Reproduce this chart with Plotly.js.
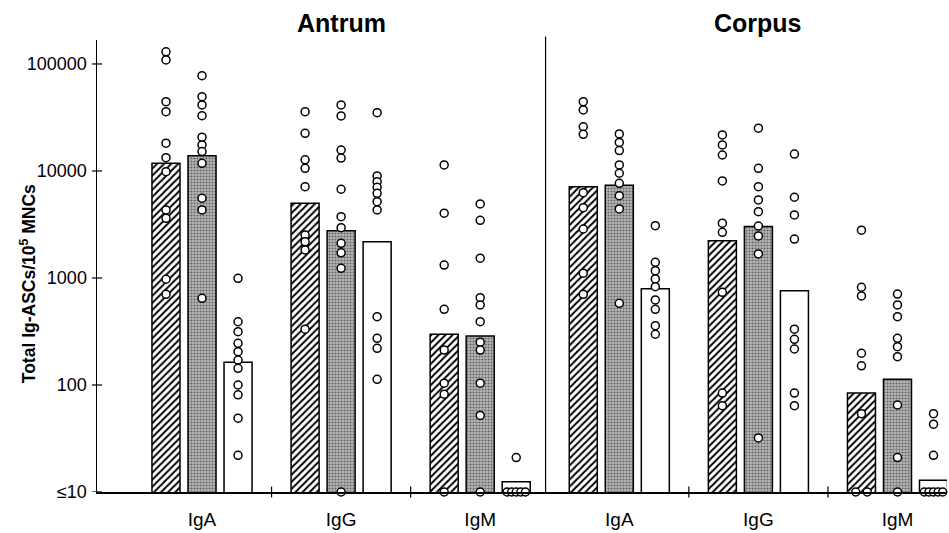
<!DOCTYPE html>
<html><head><meta charset="utf-8">
<script src="https://cdn.plot.ly/plotly-3.0.1.min.js"></script>
<style>html,body{margin:0;padding:0;background:#fff}#chart{width:949px;height:533px}</style>
</head><body><div id="chart"></div>
<script>
// ---- data ----
const groupLabels = ['IgA','IgG','IgM','IgA','IgG','IgM'];
const panelTitles = ['Antrum','Corpus'];
const panelTitleGroup = [1, 4];
const yTickVals = [10,100,1000,10000,100000];
const yTickText = ['\u226410','100','1000','10000','100000'];
const yAxisTitle = '<b>Total Ig-ASCs/10<sup>5</sup> MNCs</b>';

// bar heights for the three series (hatched, grey, white)
const barHatched = [11800, 4990, 298, 7130, 2230, 84];
const barGray    = [13900, 2770, 287, 7350, 3020, 113];
const barWhite   = [163, 2180, 12.5, 794, 761, 12.9];

// individual values per group (<=10 plotted at 10)
const ptsHatched = [
  [130000,109000,44400,35800,18200,13300,9850,4320,3610,973,704],
  [35800,22500,12700,10600,7130,2520,2180,1830,332],
  [11400,4030,1320,510,212,104,82,10],
  [44400,37200,25900,22000,6270,4540,2870,1110,704],
  [21700,17500,14100,8070,3250,2670,735,84,64],
  [2800,819,679,198,151,54,10,10]
];
const ptsGray = [
  [77800,49500,41400,32900,20700,17500,15200,11800,5560,4320,646],
  [41400,32700,15700,13200,6750,3740,2950,2110,1720,1230,10],
  [4920,3460,1530,655,560,391,251,212,104,52,10],
  [22200,18500,15500,11400,9520,7670,5880,4420,580],
  [25100,10600,7130,5360,4170,3060,2470,1680,32],
  [708,560,435,273,228,184,65,21,10]
];
const ptsWhite = [
  [993,390,315,245,205,171,143,100,81,49,22],
  [35100,8980,7940,7040,6190,5170,4320,435,273,220,113],
  [21,10,10,10,10,10],
  [3080,1400,1170,979,829,623,510,358,298],
  [14400,5680,3880,2310,332,267,217,84,64],
  [54,43,22,10,10,10,10,10]
];

// ---- build ----
const groupX = groupLabels.map((_, i) => i);
const BARGAP = 0.223, BARGROUPGAP = 0.222;
const slot = (1 - BARGAP) / 3;
const styles = [
  {bars: barHatched, pts: ptsHatched, color:'#ffffff',
   pattern:{shape:'/', fgcolor:'#000000', bgcolor:'#ffffff', size:5, solidity:0.4}},
  {bars: barGray, pts: ptsGray, color:'#a0a0a0',
   pattern:{shape:'.', fgcolor:'#666666', bgcolor:'#b8b8b8', size:3, solidity:0.4}},
  {bars: barWhite, pts: ptsWhite, color:'#ffffff', pattern:null}
];

const traces = [];
styles.forEach((s, si) => {
  const marker = {color: s.color, line:{color:'#000', width:1.5}};
  if (s.pattern) marker.pattern = s.pattern;
  traces.push({type:'bar', x: groupX, y: s.bars, marker: marker, hoverinfo:'skip'});
});
styles.forEach((s, si) => {
  const xs = [], ys = [];
  s.pts.forEach((arr, g) => {
    const counts = {};
    arr.forEach(v => counts[v] = (counts[v] || 0) + 1);
    const seen = {};
    arr.forEach(v => {
      const n = counts[v];
      const k = seen[v] = (seen[v] === undefined ? 0 : seen[v] + 1);
      const dx = n > 1 ? (k - (n - 1) / 2) * (0.165 / n) : 0;
      xs.push(groupX[g] + (si - 1) * slot + dx);
      ys.push(v);
    });
  });
  traces.push({type:'scatter', mode:'markers', x: xs, y: ys, cliponaxis:false,
    marker:{size:8, color:'#fff', line:{color:'#000', width:1.5}}, hoverinfo:'skip'});
});

const shapes = [];
// panel divider
shapes.push({type:'line', xref:'x', yref:'y domain', x0:2.47, x1:2.47, y0:0, y1:1.008,
  line:{color:'#000', width:1.2}});
// crossing x ticks between groups within panels
[0.5, 1.5, 3.5, 4.5].forEach(x => shapes.push({type:'line', xref:'x', yref:'y domain',
  x0:x, x1:x, y0:-0.012, y1:0.012, line:{color:'#000', width:1.2}}));
// crossing y ticks
yTickVals.forEach(v => shapes.push({type:'line', xref:'x domain', yref:'y',
  x0:-0.006, x1:0.006, y0:v, y1:v, line:{color:'#000', width:1.2}}));

const annotations = panelTitles.map((t, i) => ({text:'<b>'+t+'</b>', xref:'x', yref:'paper',
  x: groupX[panelTitleGroup[i]], y:1.037, xanchor:'center', yanchor:'middle', showarrow:false,
  font:{size:25, color:'#000'}}));
annotations.push({text: yAxisTitle, xref:'paper', yref:'paper', x:-0.081, y:0.46,
  textangle:-90, xanchor:'center', yanchor:'middle', showarrow:false, font:{size:17.5, color:'#000'}});

const layout = {
  width:949, height:533, margin:{l:97, r:2, t:40, b:41},
  paper_bgcolor:'#fff', plot_bgcolor:'#fff', showlegend:false,
  barmode:'group', bargap:BARGAP, bargroupgap:BARGROUPGAP,
  font:{family:'Liberation Sans, Arial, sans-serif', color:'#000', size:18},
  xaxis:{range:[-0.755, 5.356], tickvals:groupX, ticktext:groupLabels, ticks:'',
    showline:true, linecolor:'#000', linewidth:1.5, showgrid:false, zeroline:false,
    ticklabelstandoff:10, tickfont:{size:19}},
  yaxis:{type:'log', range:[1, 5.224], tickvals:yTickVals, ticktext:yTickText, ticks:'',
    showline:true, linecolor:'#000', linewidth:1.5, showgrid:false, zeroline:false,
    ticklabelstandoff:5, tickfont:{size:18}},
  shapes: shapes, annotations: annotations
};
Plotly.newPlot('chart', traces, layout, {displayModeBar:false, staticPlot:true});
</script></body></html>
